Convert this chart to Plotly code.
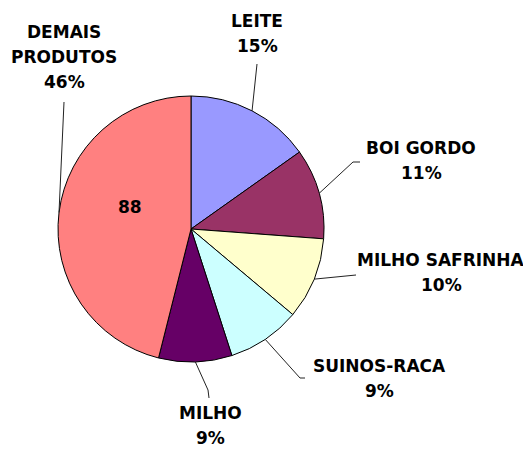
import math
import plotly.graph_objects as go

# ---- data ----
categories = ["LEITE", "BOI GORDO", "MILHO SAFRINHA", "SUINOS-RACA", "MILHO", "DEMAIS PRODUTOS"]
values = [29, 21, 19, 17, 17, 88]
colors = ["#9999FF", "#993366", "#FFFFCC", "#CCFFFF", "#660066", "#FF8080"]
label_lines = [["LEITE"], ["BOI GORDO"], ["MILHO SAFRINHA"], ["SUINOS-RACA"], ["MILHO"], ["DEMAIS", "PRODUTOS"]]

W, H = 531, 450
OFF = 8  # page body margin offset
CX, CY, R = 191, 229, 133

def px(x):
    return (x - OFF) / W

def py(y):
    return 1 - (y - OFF) / H

FONT = dict(family="DejaVu Sans", size=17, color="black", weight="bold")

fig = go.Figure(go.Pie(
    labels=categories, values=values, sort=False, direction="clockwise", rotation=0,
    marker=dict(colors=colors, line=dict(color="black", width=1)),
    textinfo="none", hoverinfo="label+percent+value", showlegend=False,
    domain=dict(x=[px(CX - R), px(CX + R)], y=[py(CY + R), py(CY - R)]),
))

total = sum(values)
label_pos = [
    (257, 21),
    (421, 148),
    (441, 260),
    (379, 366),
    (210, 413),
    (64, 32),
]
leader_pts = [
    [(257, 64)],
    [(353, 162), (360, 162)],
    [(356, 275)],
    [(300, 378), (305, 378)],
    [(208, 390), (209, 398)],
    [(64, 102)],
]
LS = 25

annotations = []
shapes = []
cum = 0
for i, (cat, v) in enumerate(zip(categories, values)):
    mid = (cum + v / 2) / total * 2 * math.pi
    cum += v
    ex = CX + R * math.sin(mid)
    ey = CY - R * math.cos(mid)
    pts = [(ex, ey)] + leader_pts[i]
    path = "M " + " L ".join(f"{px(a)},{py(b)}" for a, b in pts)
    shapes.append(dict(type="path", path=path, xref="paper", yref="paper",
                       line=dict(color="#222222", width=1)))
    lines = label_lines[i] + [f"{round(v / total * 100)}%"]
    lx, ly = label_pos[i]
    for j, t in enumerate(lines):
        annotations.append(dict(text=t, x=px(lx), y=py(ly + j * LS), xref="paper", yref="paper",
                                showarrow=False, xanchor="center", yanchor="middle", font=FONT))

annotations.append(dict(text=str(values[-1]), x=px(130), y=py(207), xref="paper", yref="paper",
                        showarrow=False, xanchor="center", yanchor="middle", font=FONT))

fig.update_layout(
    width=W, height=H, margin=dict(l=0, r=0, t=0, b=0),
    paper_bgcolor="white", plot_bgcolor="white",
    annotations=annotations, shapes=shapes,
)

fig.write_html("out.html")
